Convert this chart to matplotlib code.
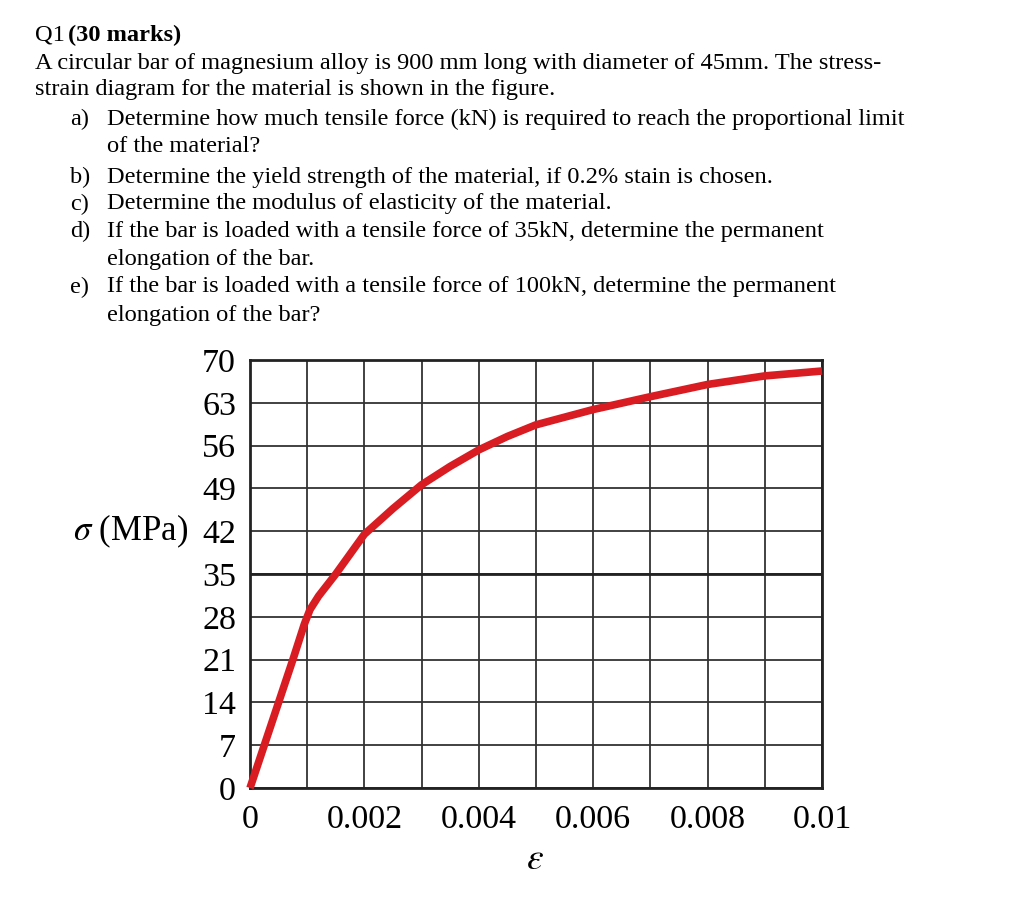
import numpy as np
import matplotlib
matplotlib.use("Agg")
import matplotlib.pyplot as plt

plt.rcParams['font.family'] = ['Liberation Serif', 'DejaVu Serif']
plt.rcParams['mathtext.fontset'] = 'stix'

# Data
strain = [0.0, 0.00025, 0.0005, 0.00075, 0.00095, 0.00105, 0.0012, 0.0015, 0.002,
          0.0025, 0.003, 0.0035, 0.004, 0.0045, 0.005, 0.006, 0.007, 0.008, 0.009, 0.01]
stress = [0.0, 7.0, 14.0, 21.0, 26.8, 29.2, 31.4, 35.0, 41.5,
          45.7, 49.6, 52.6, 55.3, 57.5, 59.4, 61.9, 64.0, 66.0, 67.4, 68.2]

x_ticks = [0, 0.001, 0.002, 0.003, 0.004, 0.005, 0.006, 0.007, 0.008, 0.009, 0.01]
x_labels = ["0", "", "0.002", "", "0.004", "", "0.006", "", "0.008", "", "0.01"]
y_ticks = [0, 7, 14, 21, 28, 35, 42, 49, 56, 63, 70]
y_labels = ["0", "7", "14", "21", "28", "35", "42", "49", "56", "63", "70"]

body_lines = [
    (35, 63, "A circular bar of magnesium alloy is 900 mm long with diameter of 45mm. The stress-"),
    (35, 90, "strain diagram for the material is shown in the figure."),
    (107, 119, "Determine how much tensile force (kN) is required to reach the proportional limit"),
    (107, 147, "of the material?"),
    (107, 177, "Determine the yield strength of the material, if 0.2% stain is chosen."),
    (107, 204, "Determine the modulus of elasticity of the material."),
    (107, 231, "If the bar is loaded with a tensile force of 35kN, determine the permanent"),
    (107, 259, "elongation of the bar."),
    (107, 287, "If the bar is loaded with a tensile force of 100kN, determine the permanent"),
    (107, 315, "elongation of the bar?"),
]
item_labels = [(70, 119, "a)"), (70, 177, "b)"), (70, 204, "c)"), (70, 231, "d)"), (70, 287, "e)")]

W, H = 1024, 923
fig = plt.figure(figsize=(W / 100, H / 100), dpi=100)

def fx(px):
    return px / W

def fy(py):
    return 1 - py / H

fs_text = 17.6
fig.text(fx(35), fy(35), "Q1", fontsize=fs_text, va='center', ha='left')
fig.text(fx(68), fy(35), "(30 marks)", fontsize=fs_text, va='center', ha='left', fontweight='bold')
for x, y, s in body_lines:
    fig.text(fx(x), fy(y), s, fontsize=fs_text, va='center', ha='left')
for x, y, s in item_labels:
    fig.text(fx(x), fy(y), s, fontsize=fs_text, va='center', ha='left')

ax = fig.add_axes([fx(250), fy(788), fx(822) - fx(250), fy(360) - fy(788)])
ax.set_xlim(0, 0.01)
ax.set_ylim(0, 70)
ax.set_xticks(x_ticks)
ax.set_xticklabels(x_labels)
ax.set_yticks(y_ticks)
ax.set_yticklabels(y_labels)
ax.tick_params(length=0, labelsize=24.5, pad=10)
ax.tick_params(axis='x', pad=12)
ax.grid(True, color='#333333', linewidth=1.3)
ax.axhline(35, color='#222222', linewidth=2.0, zorder=1.5)
for s in ax.spines.values():
    s.set_linewidth(2.0)
    s.set_color('#222222')
ax.set_axisbelow(True)

ax.plot(strain, stress, color='#d81c22', linewidth=5.5, solid_capstyle='butt',
        solid_joinstyle='round', zorder=3, clip_on=False)

fig.text(fx(131), fy(531), r"$\sigma$ (MPa)", fontsize=25, va='center', ha='center')
fig.text(fx(535), fy(860), r"$\varepsilon$", fontsize=27, va='center', ha='center')

fig.savefig("out.png", dpi=100)
